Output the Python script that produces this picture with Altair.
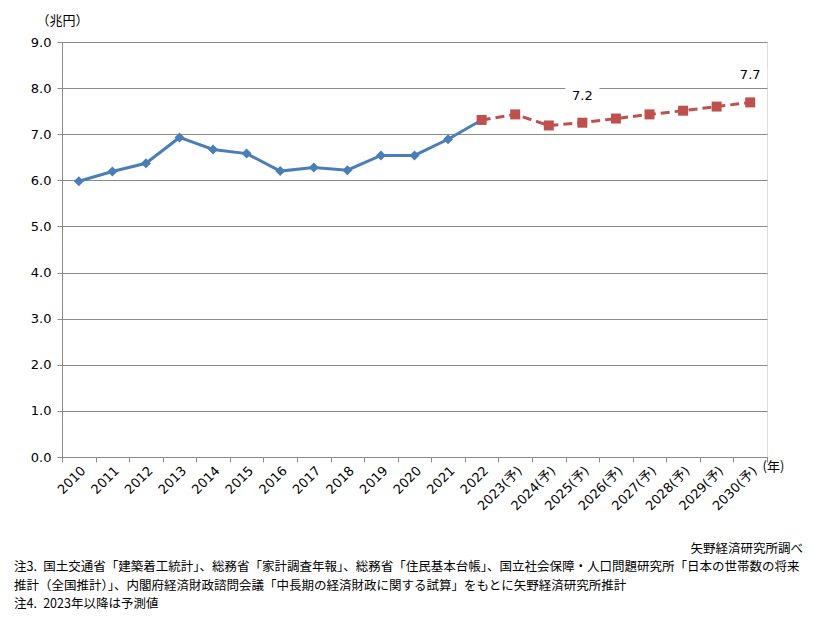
import altair as alt
import pandas as pd

years = ["2010", "2011", "2012", "2013", "2014", "2015", "2016", "2017", "2018", "2019", "2020", "2021", "2022",
         "2023(予)", "2024(予)", "2025(予)", "2026(予)", "2027(予)", "2028(予)", "2029(予)", "2030(予)"]
actual_years = years[:13]
actual_vals = [5.98, 6.19, 6.37, 6.93, 6.67, 6.58, 6.20, 6.28, 6.22, 6.54, 6.54, 6.89, 7.31]
fc_years = years[12:]
fc_vals = [7.31, 7.43, 7.19, 7.25, 7.34, 7.43, 7.51, 7.60, 7.69]
label_years = ["2025(予)", "2030(予)"]
label_vals = [7.25, 7.69]
label_text = ["7.2", "7.7"]
source_text = ["矢野経済研究所調べ"]
notes = [
    "注3.\u2002国土交通省「建築着工統計」、総務省「家計調査年報」、総務省「住民基本台帳」、国立社会保障・人口問題研究所「日本の世帯数の将来",
    "推計（全国推計）」、内閣府経済財政諮問会議「中長期の経済財政に関する試算」をもとに矢野経済研究所推計",
    "注4.\u20022023年以降は予測値",
]

FONT = "DejaVu Sans, Noto Sans CJK JP"
CJK = "Noto Sans CJK JP"
GRID = "#8c8c8c"

df_a = pd.DataFrame({"year": actual_years, "v": actual_vals})
df_f = pd.DataFrame({"year": fc_years, "v": fc_vals})
df_l = pd.DataFrame({"year": label_years, "v": label_vals, "t": label_text})

xscale = alt.Scale(type="band", domain=years, paddingInner=0, paddingOuter=0)
x_enc = alt.X("year:N", scale=xscale, sort=years, bandPosition=0.5,
              axis=alt.Axis(title="(年)", titleAngle=0, titleX=700, titleY=9, titleAlign="left",
                            titleBaseline="middle", titleFontSize=13, titleFontWeight="normal",
                            titleFont=CJK, labelAngle=-45, labelFontSize=13, labelFont=FONT,
                            labelColor="black", tickBand="extent", tickColor=GRID, tickSize=5,
                            domainColor=GRID, grid=False, labelPadding=2))
yscale = alt.Scale(domain=[0, 9], nice=False, zero=True)
y_enc = alt.Y("v:Q", scale=yscale,
              axis=alt.Axis(title="（兆円）", titleAngle=0, titleX=-26, titleY=-22, titleAlign="left",
                            titleBaseline="middle", titleFontSize=13, titleFontWeight="normal",
                            titleFont=CJK, values=list(range(10)), format=".1f", labelFontSize=13,
                            labelFont=FONT, labelColor="black", tickColor=GRID, tickSize=5,
                            domainColor=GRID, gridColor=GRID, labelPadding=6))

line_a = alt.Chart(df_a).mark_line(color="#4A7EBB", strokeWidth=3).encode(x=x_enc, y=y_enc)
pts_a = alt.Chart(df_a).mark_point(shape="diamond", filled=True, size=100, color="#4A7EBB", opacity=1).encode(x=x_enc, y=y_enc)
line_f = alt.Chart(df_f).mark_line(color="#C0504D", strokeWidth=3, strokeDash=[9, 5]).encode(x=x_enc, y=y_enc)
pts_f = alt.Chart(df_f).mark_point(shape="square", filled=True, size=100, color="#C0504D", opacity=1).encode(x=x_enc, y=y_enc)
boxes = alt.Chart(df_l).mark_point(shape="M-1,-0.45L1,-0.45L1,0.45L-1,0.45Z", filled=True, size=1160,
                                   color="white", opacity=1, yOffset=-27).encode(x=x_enc, y=y_enc)
labels = alt.Chart(df_l).mark_text(fontSize=13, font=FONT, color="black", yOffset=-27, baseline="middle").encode(
    x=x_enc, y=y_enc, text="t:N")

src = alt.Chart(pd.DataFrame({"t": source_text})).mark_text(
    fontSize=12.5, font=CJK, color="black", align="right", baseline="middle").encode(
    x=alt.value(741), y=alt.value(507), text="t:N")
df_n = pd.DataFrame({"t": notes, "i": list(range(len(notes)))})
note_marks = alt.Chart(df_n).mark_text(
    fontSize=12.5, font=CJK, color="black", align="left", baseline="middle").encode(
    x=alt.value(-48), y=alt.value(0), yOffset=alt.YOffset("i:O", scale=alt.Scale(domain=[0, 1, 2], range=[525, 562], type="point", padding=0)),
    text="t:N")

chart = alt.layer(line_a, pts_a, line_f, pts_f, boxes, labels, src, note_marks).properties(
    width=705, height=415,
    autosize=alt.AutoSizeParams(type="none"),
    padding={"left": 62, "top": 42, "right": 47, "bottom": 172},
).configure_view(stroke=None).configure(background="white")

chart.save("out.html", embed_options={"renderer": "svg", "actions": False})
